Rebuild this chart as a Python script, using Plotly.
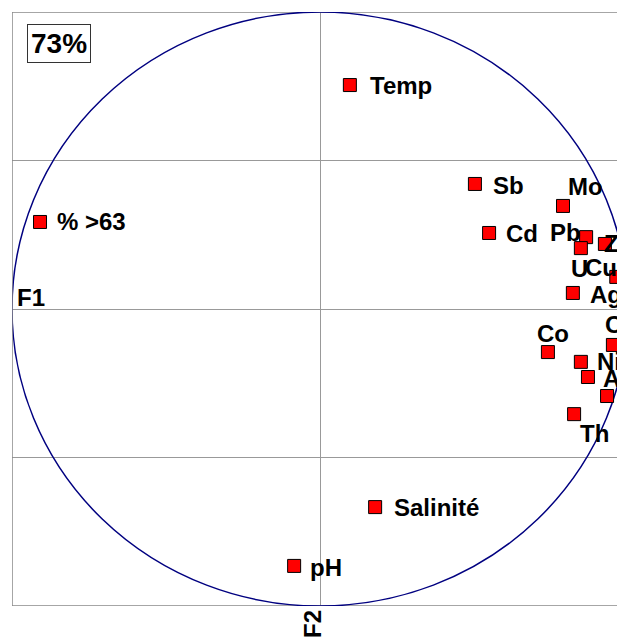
import plotly.graph_objects as go

# Variables (correlation circle, F1 x F2)
labels = ["Temp", "Sb", "Mo", "Cd", "% >63", "Pb", "U", "Zn", "Cu", "Ag",
          "Cr", "Co", "Ni", "As", "V", "Th", "Salinité", "pH"]
f1 = [0.097, 0.503, 0.789, 0.549, -0.909, 0.864, 0.847, 0.925, 0.962, 0.821,
      0.951, 0.740, 0.847, 0.870, 0.932, 0.825, 0.179, -0.084]
f2 = [0.754, 0.421, 0.347, 0.256, 0.293, 0.242, 0.205, 0.219, 0.108, 0.054,
      -0.121, -0.145, -0.178, -0.229, -0.293, -0.354, -0.667, -0.865]
inertia_label = "73%"
y_grid = [-1, -0.5, 0, 0.5, 1]
x_grid = [0]

# label placement (anchor, x shift px, y shift px downward)
label_place = [("left", 18, 0), ("left", 16, 2), ("left", 3, -19), ("left", 15, 1),
               ("left", 15, 0), ("right", -3, -5), ("center", -1, 20), ("left", -3, 0),
               ("center", -15, -9), ("left", 15, 2), ("left", -10, -20), ("center", 5, -19),
               ("left", 14, 0), ("left", 13, 1), ("left", 15, 0), ("left", 4, 19),
               ("left", 17, 0), ("left", 14, 2)]

FONT = "Liberation Sans, Arial, sans-serif"
LSIZE = 24
fig = go.Figure()
fig.add_trace(go.Scatter(
    x=f1, y=f2, mode="markers",
    marker=dict(symbol="square", size=13, color="#FF0000",
                line=dict(color="black", width=1)),
    hoverinfo="text", text=labels, showlegend=False))

annotations = []
for lab, x, y, (anc, dx, dy) in zip(labels, f1, f2, label_place):
    annotations.append(dict(x=x, y=y, xref="x", yref="y", text=lab, showarrow=False,
                            xanchor=anc, yanchor="middle", xshift=dx, yshift=-dy,
                            font=dict(family=FONT, size=LSIZE, color="black", weight="bold")))

annotations.append(dict(x=0.0248, y=0.98, xref="paper", yref="paper", text=inertia_label,
                        showarrow=False, xanchor="left", yanchor="top",
                        bordercolor="#333333", borderwidth=1, borderpad=3,
                        font=dict(family=FONT, size=28, color="black", weight="bold")))
annotations.append(dict(x=-1, y=0, xref="x", yref="y", text="F1", showarrow=False,
                        xanchor="left", yanchor="middle", xshift=3, yshift=12,
                        font=dict(family=FONT, size=LSIZE, color="black", weight="bold")))
annotations.append(dict(x=0, y=0, xref="x", yref="paper", text="F2", showarrow=False,
                        xanchor="center", yanchor="top", xshift=-8, yshift=-2, textangle=-90,
                        font=dict(family=FONT, size=LSIZE, color="black", weight="bold")))

shapes = [
    dict(type="circle", xref="x", yref="y", x0=-1, y0=-1, x1=1, y1=1,
         line=dict(color="#000080", width=1.5), layer="between"),
    dict(type="line", xref="x", yref="y", x0=-1, x1=-1, y0=-1, y1=1,
         line=dict(color="#888888", width=1.5), layer="between"),
    dict(type="line", xref="paper", yref="y", x0=0, x1=1, y0=1, y1=1,
         line=dict(color="#888888", width=1.5), layer="between"),
    dict(type="line", xref="paper", yref="y", x0=0, x1=1, y0=-1, y1=-1,
         line=dict(color="#888888", width=1.5), layer="between"),
]

fig.update_layout(
    width=617, height=637,
    margin=dict(l=12, r=0, t=12, b=31, pad=0),
    paper_bgcolor="white", plot_bgcolor="white",
    xaxis=dict(range=[-1, 0.9643], tickvals=x_grid, showgrid=True, gridcolor="#999999",
               gridwidth=1, zeroline=False, showticklabels=False, ticks="", showline=False),
    yaxis=dict(range=[-1, 1], tickvals=y_grid, showgrid=True, gridcolor="#999999",
               gridwidth=1, zeroline=False, showticklabels=False, ticks="", showline=False),
    annotations=annotations, shapes=shapes,
)
# remove the default page margin so the figure fills the window exactly
fig.write_html("out.html",
               config=dict(displayModeBar=False),
               post_script="document.body.style.margin='0';"
                           "document.documentElement.style.overflow='hidden';")
